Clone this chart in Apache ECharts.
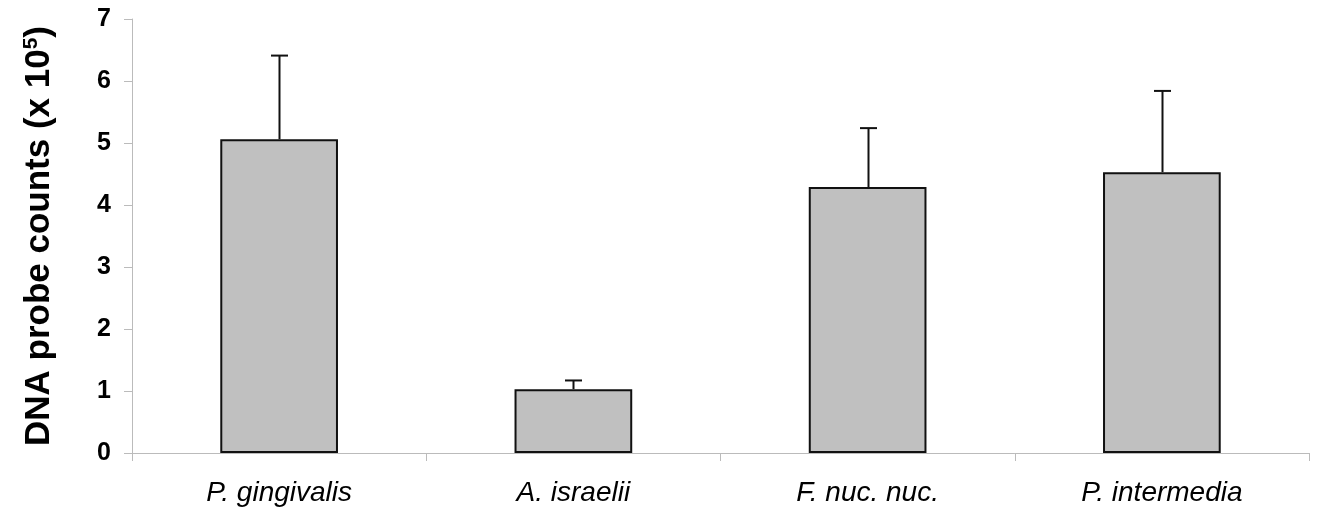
<!DOCTYPE html>
<html><head><meta charset="utf-8">
<script src="https://cdn.jsdelivr.net/npm/echarts@6/dist/echarts.min.js"></script>
<style>html,body{margin:0;padding:0;background:#fff}#c{width:1320px;height:516px}</style>
</head><body><div id="c"></div>
<script>
var categories = ['P. gingivalis', 'A. israelii', 'F. nuc. nuc.', 'P. intermedia'];
var means = [5.06, 1.03, 4.29, 4.53];
var upperErrors = [6.41, 1.17, 5.24, 5.84];
var yTicks = [0, 1, 2, 3, 4, 5, 6, 7];

var chart = echarts.init(document.getElementById('c'));
chart.setOption({
  animation: false,
  backgroundColor: '#fff',
  grid: {left: 132, right: 11, top: 19, bottom: 63, containLabel: false},
  xAxis: {
    type: 'category', data: categories,
    axisLine: {lineStyle: {color: '#bbb', width: 1}},
    axisTick: {show: true, alignWithLabel: false, length: 8, lineStyle: {color: '#bbb'}},
    axisLabel: {fontFamily: 'Liberation Sans, Arial', fontStyle: 'italic', fontSize: 28, color: '#000', margin: 26}
  },
  yAxis: {
    type: 'value', min: 0, max: 7, interval: 1,
    name: '{a|DNA probe counts (x 10}{s|5}{a|)}',
    nameLocation: 'middle', nameGap: 75, nameRotate: 90,
    nameTextStyle: {rich: {
      a: {fontFamily: 'Liberation Sans, Arial', fontWeight: 'bold', fontSize: 35, color: '#000'},
      s: {fontFamily: 'Liberation Sans, Arial', fontWeight: 'bold', fontSize: 21, color: '#000', verticalAlign: 'top', padding: [0,0,15,0]}
    }},
    axisLine: {show: true, lineStyle: {color: '#bbb', width: 1}},
    axisTick: {show: true, length: 8, lineStyle: {color: '#bbb'}},
    splitLine: {show: false},
    axisLabel: {fontFamily: 'Liberation Sans, Arial', fontWeight: 'bold', fontSize: 25, color: '#000', margin: 21,
      formatter: function(v){ return yTicks.indexOf(v) >= 0 ? String(v) : ''; }}
  },
  series: [{
    type: 'bar', data: means, barWidth: '40%',
    itemStyle: {color: '#c0c0c0', borderColor: '#111', borderWidth: 2}
  }, {
    type: 'custom',
    data: categories.map(function(c, i){ return [i, means[i], upperErrors[i]]; }),
    renderItem: function(params, api){
      var base = api.coord([api.value(0), api.value(1)]);
      var top = api.coord([api.value(0), api.value(2)]);
      var x = Math.round(base[0]) + 0.5;
      var hw = 8.5;
      return {type: 'group', children: [
        {type: 'line', shape: {x1: x, y1: base[1], x2: x, y2: top[1]}, style: {stroke: '#111', lineWidth: 2}},
        {type: 'line', shape: {x1: x - hw, y1: top[1], x2: x + hw, y2: top[1]}, style: {stroke: '#111', lineWidth: 2}}
      ]};
    },
    z: 3
  }]
});
</script></body></html>
